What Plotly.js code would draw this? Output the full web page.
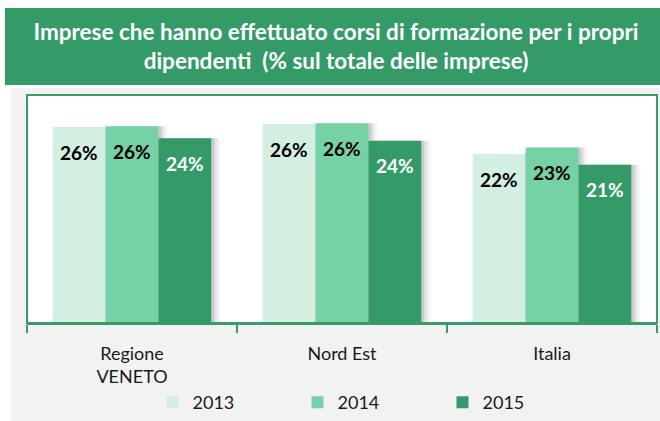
<!DOCTYPE html>
<html>
<head>
<meta charset="utf-8">
<script src="https://cdn.plot.ly/plotly-3.0.1.min.js"></script>
<style>html,body{margin:0;padding:0;background:#fff;}#chart{width:660px;height:421px;}</style>
</head>
<body>
<div id="chart"></div>
<script>
var categories = ["Regione<br>VENETO", "Nord Est", "Italia"];
var years = ["2013", "2014", "2015"];
var values2013 = [25.9, 26.3, 22.3];
var values2014 = [26.0, 26.4, 23.2];
var values2015 = [24.4, 24.1, 20.9];
var labels2013 = ["26%", "26%", "22%"];
var labels2014 = ["26%", "26%", "23%"];
var labels2015 = ["24%", "24%", "21%"];
var titleText = "Imprese che hanno effettuato corsi di formazione per i propri<br>dipendenti  (% sul totale delle imprese)";

var W = 660, H = 421;
var M = {l: 27, r: 3, t: 96, b: 98};
var plotW = W - M.l - M.r, plotH = H - M.t - M.b;
function px(x) { return (x - M.l) / plotW; }
function py(y) { return (H - M.b - y) / plotH; }

var colors = ["#d3efe1", "#77d1a6", "#349b68"];
var labelColors = ["#000000", "#000000", "#ffffff"];
var series = [values2013, values2014, values2015];
var labelSets = [labels2013, labels2014, labels2015];
var bargap = 0.245;
var barW = (1 - bargap) / series.length;
var catPx = plotW / categories.length;   // pixels per category
var pxU = 1 / catPx;                      // one pixel in category units

var FONT = "Lato, 'Open Sans', sans-serif";

function offsetOf(i) { return -(1 - bargap) / 2 + i * barW; }

var traces = [];
// soft drop shadows (decoration) behind bars
[3, 6, 9].forEach(function (d, k) {
  series.forEach(function (vals, i) {
    traces.push({
      type: "bar", x: categories, y: vals,
      width: barW, offset: offsetOf(i) + d * pxU,
      base: 0,
      marker: {color: "rgba(0,0,0," + [0.10, 0.07, 0.04][k] + ")", line: {width: 0}},
      showlegend: false, hoverinfo: "skip"
    });
  });
});
series.forEach(function (vals, i) {
  traces.push({
    type: "bar",
    name: years[i],
    x: categories,
    y: vals,
    width: barW, offset: offsetOf(i),
    marker: {color: colors[i], line: {width: 0}},
    hoverinfo: "skip"
  });
});

var annotations = [];
series.forEach(function (vals, i) {
  vals.forEach(function (v, j) {
    annotations.push({
      xref: "x", yref: "y",
      x: j + offsetOf(i) + barW / 2,
      y: v,
      yanchor: "middle",
      yshift: -25,
      showarrow: false,
      text: "<b>" + labelSets[i][j] + "</b>",
      font: {family: FONT, size: 19, color: labelColors[i]}
    });
  });
});

var layout = {
  width: W, height: H,
  margin: M,
  paper_bgcolor: "#f2f2f2",
  plot_bgcolor: "#ffffff",
  barmode: "overlay",
  title: {
    text: "<b>" + titleText + "</b>",
    font: {family: FONT, size: 22.5, color: "#ffffff"},
    xref: "container", x: 336 / W, xanchor: "center",
    yref: "container", y: 1 - 40 / H, yanchor: "middle"
  },
  xaxis: {
    type: "category",
    showline: true, linecolor: "#3a9b6a", linewidth: 2,
    ticks: "outside", tickson: "boundaries", ticklen: 8, tickcolor: "#3a9b6a", tickwidth: 2,
    ticklabelstandoff: 13,
    tickfont: {family: FONT, size: 18, color: "#1a1a1a"},
    showgrid: false, zeroline: false, fixedrange: true
  },
  yaxis: {
    range: [0, 30], visible: false, showgrid: false, zeroline: false, fixedrange: true
  },
  showlegend: true,
  legend: {
    orientation: "h",
    xref: "paper", x: px(370), xanchor: "center",
    yref: "container", y: -0.015, yanchor: "bottom",
    font: {family: FONT, size: 18, color: "#1a1a1a"},
    bgcolor: "rgba(0,0,0,0)",
    traceorder: "normal",
    entrywidth: 100
  },
  shapes: [
    {type: "rect", xref: "paper", yref: "paper", layer: "below",
     x0: px(-5), x1: px(11), y0: py(-5), y1: py(H + 5),
     fillcolor: "#ffffff", line: {width: 0}},
    {type: "rect", xref: "paper", yref: "paper", layer: "below",
     x0: px(-5), x1: px(W + 5), y0: py(-5), y1: py(88),
     fillcolor: "#ffffff", line: {width: 0}},
    {type: "rect", xref: "paper", yref: "paper", layer: "below",
     x0: px(5), x1: px(W + 5), y0: py(8), y1: py(85),
     fillcolor: "#349b68", line: {width: 0}},
    {type: "rect", xref: "paper", yref: "paper", layer: "above",
     x0: 0, x1: 1, y0: 0, y1: py(95),
     fillcolor: "rgba(0,0,0,0)", line: {color: "#3a9b6a", width: 2}}
  ],
  annotations: annotations
};

Plotly.newPlot("chart", traces, layout, {displayModeBar: false, staticPlot: true});
</script>
</body>
</html>
